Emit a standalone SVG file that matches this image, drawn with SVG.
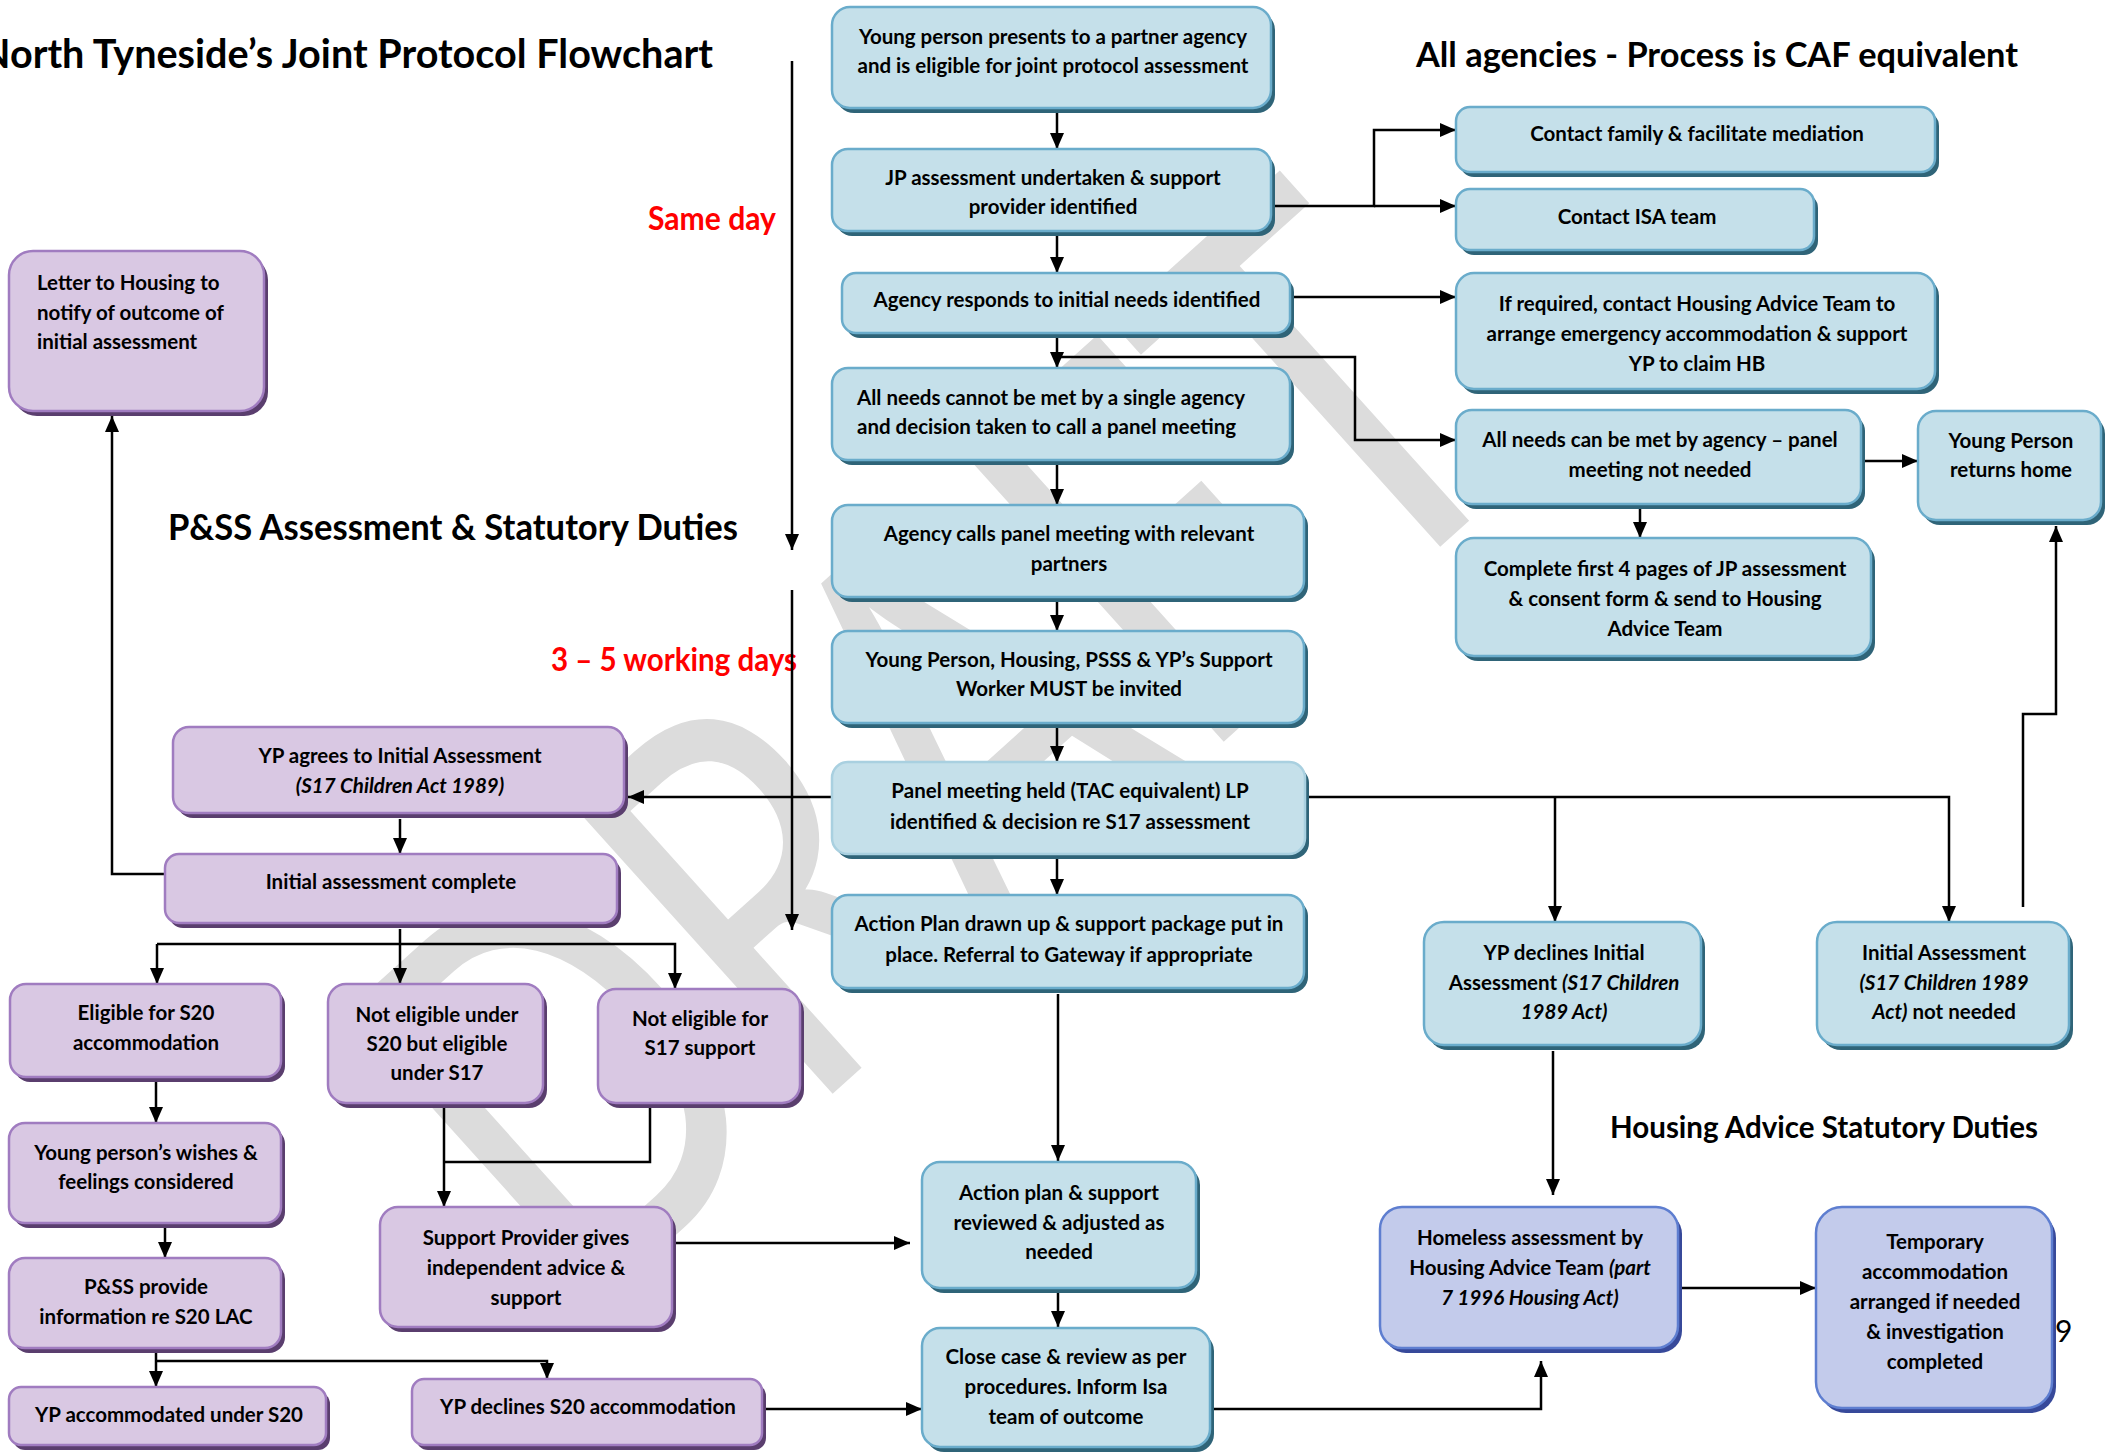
<svg xmlns="http://www.w3.org/2000/svg" width="2112" height="1455" viewBox="0 0 2112 1455">
<defs>
<style>
.bb{fill:#c5e0ea;stroke:#6aaccb;stroke-width:2.5}
.bs{fill:#2f6478}
.pb{fill:#d9c8e3;stroke:#a07cc0;stroke-width:2.5}
.ps{fill:#5a3e6e}
.vb{fill:#c3cbeb;stroke:#5e7ed0;stroke-width:2.5}
.vs{fill:#37499a}
text{font-family:Lato,"Liberation Sans",sans-serif;font-weight:bold;fill:#000}
.t{font-size:20.5px;text-anchor:middle}
.l{font-size:20.5px;text-anchor:start}
.i{font-style:italic}
.h{font-size:36px}
.red{fill:#ff0000;font-size:32px}
.conn path{fill:none;stroke:#000;stroke-width:2.5}
.wm{font-family:Lato,"Liberation Sans",sans-serif;font-weight:normal;fill:#dcdcdc}
</style>
<marker id="ar" viewBox="0 0 16 14" refX="16" refY="7" markerWidth="16" markerHeight="14" markerUnits="userSpaceOnUse" orient="auto"><path d="M0,0 L16,7 L0,14 Z" fill="#000"/></marker>
</defs>
<rect width="2112" height="1455" fill="#fff"/>
<text class="wm" x="0" y="0" font-size="540" textLength="1300" lengthAdjust="spacingAndGlyphs" transform="translate(577,1324) rotate(-42)">DRAFT</text>

<g id="titles">
<text x="-20" y="68" textLength="733" lengthAdjust="spacingAndGlyphs" style="font-size:40px">North Tyneside’s Joint Protocol Flowchart</text>
<text x="1416" y="67" textLength="602" lengthAdjust="spacingAndGlyphs" style="font-size:35px">All agencies - Process is CAF equivalent</text>
<text class="h" x="168" y="540" textLength="570" lengthAdjust="spacingAndGlyphs">P&amp;SS Assessment &amp; Statutory Duties</text>
<text x="1610" y="1138" textLength="428" lengthAdjust="spacingAndGlyphs" style="font-size:31px">Housing Advice Statutory Duties</text>
<text class="red" x="648" y="230" textLength="128" lengthAdjust="spacingAndGlyphs">Same day</text>
<text class="red" x="551" y="671" textLength="246" lengthAdjust="spacingAndGlyphs">3 – 5 working days</text>
<text x="2055" y="1342" style="font-size:30px;font-weight:normal">9</text>
</g>

<g class="conn">
<path d="M792,61 V550" marker-end="url(#ar)"/>
<path d="M792,590 V930" marker-end="url(#ar)"/>
<path d="M1057,112 V149" marker-end="url(#ar)"/>
<path d="M1057,235 V273" marker-end="url(#ar)"/>
<path d="M1275,206 H1374 V130 H1456" marker-end="url(#ar)"/>
<path d="M1374,206 H1456" marker-end="url(#ar)"/>
<path d="M1294,297 H1456" marker-end="url(#ar)"/>
<path d="M1057,338 V368" marker-end="url(#ar)"/>
<path d="M1057,357 H1355 V440 H1456" marker-end="url(#ar)"/>
<path d="M1057,465 V505" marker-end="url(#ar)"/>
<path d="M1057,602 V631" marker-end="url(#ar)"/>
<path d="M1057,728 V762" marker-end="url(#ar)"/>
<path d="M1057,859 V895" marker-end="url(#ar)"/>
<path d="M1865,461 H1918" marker-end="url(#ar)"/>
<path d="M1640,509 V538" marker-end="url(#ar)"/>
<path d="M2023,907 V714 H2056 V526" marker-end="url(#ar)"/>
<path d="M832,797 H628" marker-end="url(#ar)"/>
<path d="M1309,797 H1949 V922" marker-end="url(#ar)"/>
<path d="M1555,797 V922" marker-end="url(#ar)"/>
<path d="M400,819 V854" marker-end="url(#ar)"/>
<path d="M165,874 H112 V416" marker-end="url(#ar)"/>
<path d="M400,929 V984" marker-end="url(#ar)"/>
<path d="M157,944 H675 V989" marker-end="url(#ar)"/>
<path d="M157,944 V984" marker-end="url(#ar)"/>
<path d="M156,1082 V1123" marker-end="url(#ar)"/>
<path d="M165,1228 V1258" marker-end="url(#ar)"/>
<path d="M156,1353 V1387" marker-end="url(#ar)"/>
<path d="M156,1361 H547 V1379" marker-end="url(#ar)"/>
<path d="M444,1108 V1207" marker-end="url(#ar)"/>
<path d="M650,1108 V1162 H444"/>
<path d="M676,1243 H910" marker-end="url(#ar)"/>
<path d="M1058,994 V1161" marker-end="url(#ar)"/>
<path d="M1058,1293 V1327" marker-end="url(#ar)"/>
<path d="M766,1409 H922" marker-end="url(#ar)"/>
<path d="M1214,1409 H1541 V1361" marker-end="url(#ar)"/>
<path d="M1682,1288 H1816" marker-end="url(#ar)"/>
<path d="M1553,1051 V1195" marker-end="url(#ar)"/>
</g>

<g id="B1"><rect class="bs" x="836" y="12" width="439" height="101" rx="18"/><rect class="bb" x="832" y="7" width="439" height="101" rx="18"/>
<text class="t" x="1053" y="44">Young person presents to a partner agency</text><text class="t" x="1053" y="73">and is eligible for joint protocol assessment</text></g>
<g id="B2"><rect class="bs" x="836" y="154" width="439" height="82" rx="16"/><rect class="bb" x="832" y="149" width="439" height="82" rx="16"/>
<text class="t" x="1053" y="185">JP assessment undertaken &amp; support</text><text class="t" x="1053" y="214">provider identified</text></g>
<g id="B3"><rect class="bs" x="846" y="278" width="448" height="60" rx="14"/><rect class="bb" x="842" y="273" width="448" height="60" rx="14"/>
<text class="t" x="1067" y="307">Agency responds to initial needs identified</text></g>
<g id="B4"><rect class="bs" x="836" y="373" width="458" height="92" rx="16"/><rect class="bb" x="832" y="368" width="458" height="92" rx="16"/>
<text class="l" x="857" y="405">All needs cannot be met by a single agency</text><text class="l" x="857" y="434">and decision taken to call a panel meeting</text></g>
<g id="B5"><rect class="bs" x="836" y="510" width="472" height="92" rx="16"/><rect class="bb" x="832" y="505" width="472" height="92" rx="16"/>
<text class="t" x="1069" y="541">Agency calls panel meeting with relevant</text><text class="t" x="1069" y="571">partners</text></g>
<g id="B6"><rect class="bs" x="836" y="636" width="472" height="92" rx="16"/><rect class="bb" x="832" y="631" width="472" height="92" rx="16"/>
<text class="t" x="1069" y="667">Young Person, Housing, PSSS &amp; YP’s Support</text><text class="t" x="1069" y="696">Worker MUST be invited</text></g>
<g id="B7"><rect class="bs" x="836" y="767" width="473" height="92" rx="16"/><rect class="bb" x="832" y="762" width="473" height="92" rx="16" style="stroke:#a9d0e0"/>
<text class="t" x="1070" y="798">Panel meeting held (TAC equivalent) LP</text><text class="t" x="1070" y="829">identified &amp; decision re S17 assessment</text></g>
<g id="B8"><rect class="bs" x="836" y="900" width="472" height="93" rx="16"/><rect class="bb" x="832" y="895" width="472" height="93" rx="16"/>
<text class="t" x="1069" y="931">Action Plan drawn up &amp; support package put in</text><text class="t" x="1069" y="962">place. Referral to Gateway if appropriate</text></g>
<g id="B9"><rect class="bs" x="926" y="1167" width="274" height="126" rx="18"/><rect class="bb" x="922" y="1162" width="274" height="126" rx="18"/>
<text class="t" x="1059" y="1200">Action plan &amp; support</text><text class="t" x="1059" y="1230">reviewed &amp; adjusted as</text><text class="t" x="1059" y="1259">needed</text></g>
<g id="B10"><rect class="bs" x="926" y="1333" width="288" height="119" rx="18"/><rect class="bb" x="922" y="1328" width="288" height="119" rx="18"/>
<text class="t" x="1066" y="1364">Close case &amp; review as per</text><text class="t" x="1066" y="1394">procedures. Inform Isa</text><text class="t" x="1066" y="1424">team of outcome</text></g>

<g id="R1"><rect class="bs" x="1460" y="112" width="479" height="65" rx="14"/><rect class="bb" x="1456" y="107" width="479" height="65" rx="14"/>
<text class="t" x="1697" y="141">Contact family &amp; facilitate mediation</text></g>
<g id="R2"><rect class="bs" x="1460" y="194" width="358" height="61" rx="14"/><rect class="bb" x="1456" y="189" width="358" height="61" rx="14"/>
<text class="t" x="1637" y="224">Contact ISA team</text></g>
<g id="R3"><rect class="bs" x="1460" y="278" width="479" height="116" rx="18"/><rect class="bb" x="1456" y="273" width="479" height="116" rx="18"/>
<text class="t" x="1697" y="311">If required, contact Housing Advice Team to</text><text class="t" x="1697" y="341">arrange emergency accommodation &amp; support</text><text class="t" x="1697" y="371">YP to claim HB</text></g>
<g id="R4"><rect class="bs" x="1460" y="415" width="405" height="94" rx="16"/><rect class="bb" x="1456" y="410" width="405" height="94" rx="16"/>
<text class="t" x="1660" y="447">All needs can be met by agency – panel</text><text class="t" x="1660" y="477">meeting not needed</text></g>
<g id="R5"><rect class="bs" x="1922" y="416" width="183" height="109" rx="18"/><rect class="bb" x="1918" y="411" width="183" height="109" rx="18"/>
<text class="t" x="2011" y="448">Young Person</text><text class="t" x="2011" y="477">returns home</text></g>
<g id="R6"><rect class="bs" x="1460" y="543" width="415" height="118" rx="18"/><rect class="bb" x="1456" y="538" width="415" height="118" rx="18"/>
<text class="t" x="1665" y="576">Complete first 4 pages of JP assessment</text><text class="t" x="1665" y="606">&amp; consent form &amp; send to Housing</text><text class="t" x="1665" y="636">Advice Team</text></g>
<g id="R7"><rect class="bs" x="1428" y="927" width="277" height="123" rx="20"/><rect class="bb" x="1424" y="922" width="277" height="123" rx="20"/>
<text class="t" x="1564" y="960">YP declines Initial</text><text class="t" x="1564" y="990">Assessment <tspan class="i">(S17 Children</tspan></text><text class="t i" x="1564" y="1019">1989 Act)</text></g>
<g id="R8"><rect class="bs" x="1821" y="927" width="252" height="123" rx="20"/><rect class="bb" x="1817" y="922" width="252" height="123" rx="20"/>
<text class="t" x="1944" y="960">Initial Assessment</text><text class="t i" x="1944" y="990">(S17 Children 1989</text><text class="t" x="1944" y="1019"><tspan class="i">Act)</tspan> not needed</text></g>

<g id="P1"><rect class="vs" x="1384" y="1212" width="298" height="141" rx="22"/><rect class="vb" x="1380" y="1207" width="298" height="141" rx="22"/>
<text class="t" x="1530" y="1245">Homeless assessment by</text><text class="t" x="1530" y="1275">Housing Advice Team <tspan class="i">(part</tspan></text><text class="t i" x="1530" y="1305">7 1996 Housing Act)</text></g>
<g id="P2"><rect class="vs" x="1820" y="1212" width="236" height="201" rx="26"/><rect class="vb" x="1816" y="1207" width="236" height="201" rx="26"/>
<text class="t" x="1935" y="1249">Temporary</text><text class="t" x="1935" y="1279">accommodation</text><text class="t" x="1935" y="1309">arranged if needed</text><text class="t" x="1935" y="1339">&amp; investigation</text><text class="t" x="1935" y="1369">completed</text></g>

<g id="U1"><rect class="ps" x="13" y="256" width="255" height="160" rx="24"/><rect class="pb" x="9" y="251" width="255" height="160" rx="24"/>
<text class="l" x="37" y="290">Letter to Housing to</text><text class="l" x="37" y="320">notify of outcome of</text><text class="l" x="37" y="349">initial assessment</text></g>
<g id="U2"><rect class="ps" x="177" y="732" width="451" height="86" rx="16"/><rect class="pb" x="173" y="727" width="451" height="86" rx="16"/>
<text class="t" x="400" y="763">YP agrees to Initial Assessment</text><text class="t i" x="400" y="793">(S17 Children Act 1989)</text></g>
<g id="U3"><rect class="ps" x="169" y="859" width="452" height="69" rx="14"/><rect class="pb" x="165" y="854" width="452" height="69" rx="14"/>
<text class="t" x="391" y="889">Initial assessment complete</text></g>
<g id="U4"><rect class="ps" x="14" y="989" width="271" height="93" rx="16"/><rect class="pb" x="10" y="984" width="271" height="93" rx="16"/>
<text class="t" x="146" y="1020">Eligible for S20</text><text class="t" x="146" y="1050">accommodation</text></g>
<g id="U5"><rect class="ps" x="332" y="989" width="215" height="119" rx="18"/><rect class="pb" x="328" y="984" width="215" height="119" rx="18"/>
<text class="t" x="437" y="1022">Not eligible under</text><text class="t" x="437" y="1051">S20 but eligible</text><text class="t" x="437" y="1080">under S17</text></g>
<g id="U6"><rect class="ps" x="602" y="994" width="202" height="114" rx="18"/><rect class="pb" x="598" y="989" width="202" height="114" rx="18"/>
<text class="t" x="700" y="1026">Not eligible for</text><text class="t" x="700" y="1055">S17 support</text></g>
<g id="U7"><rect class="ps" x="13" y="1128" width="272" height="100" rx="16"/><rect class="pb" x="9" y="1123" width="272" height="100" rx="16"/>
<text class="t" x="146" y="1160">Young person’s wishes &amp;</text><text class="t" x="146" y="1189">feelings considered</text></g>
<g id="U8"><rect class="ps" x="13" y="1263" width="272" height="90" rx="16"/><rect class="pb" x="9" y="1258" width="272" height="90" rx="16"/>
<text class="t" x="146" y="1294">P&amp;SS provide</text><text class="t" x="146" y="1324">information re S20 LAC</text></g>
<g id="U9"><rect class="ps" x="384" y="1212" width="292" height="120" rx="18"/><rect class="pb" x="380" y="1207" width="292" height="120" rx="18"/>
<text class="t" x="526" y="1245">Support Provider gives</text><text class="t" x="526" y="1275">independent advice &amp;</text><text class="t" x="526" y="1305">support</text></g>
<g id="U10"><rect class="ps" x="13" y="1392" width="317" height="58" rx="12"/><rect class="pb" x="9" y="1387" width="317" height="58" rx="12"/>
<text class="t" x="169" y="1422">YP accommodated under S20</text></g>
<g id="U11"><rect class="ps" x="416" y="1384" width="350" height="66" rx="12"/><rect class="pb" x="412" y="1379" width="350" height="66" rx="12"/>
<text class="t" x="588" y="1414">YP declines S20 accommodation</text></g>
</svg>
